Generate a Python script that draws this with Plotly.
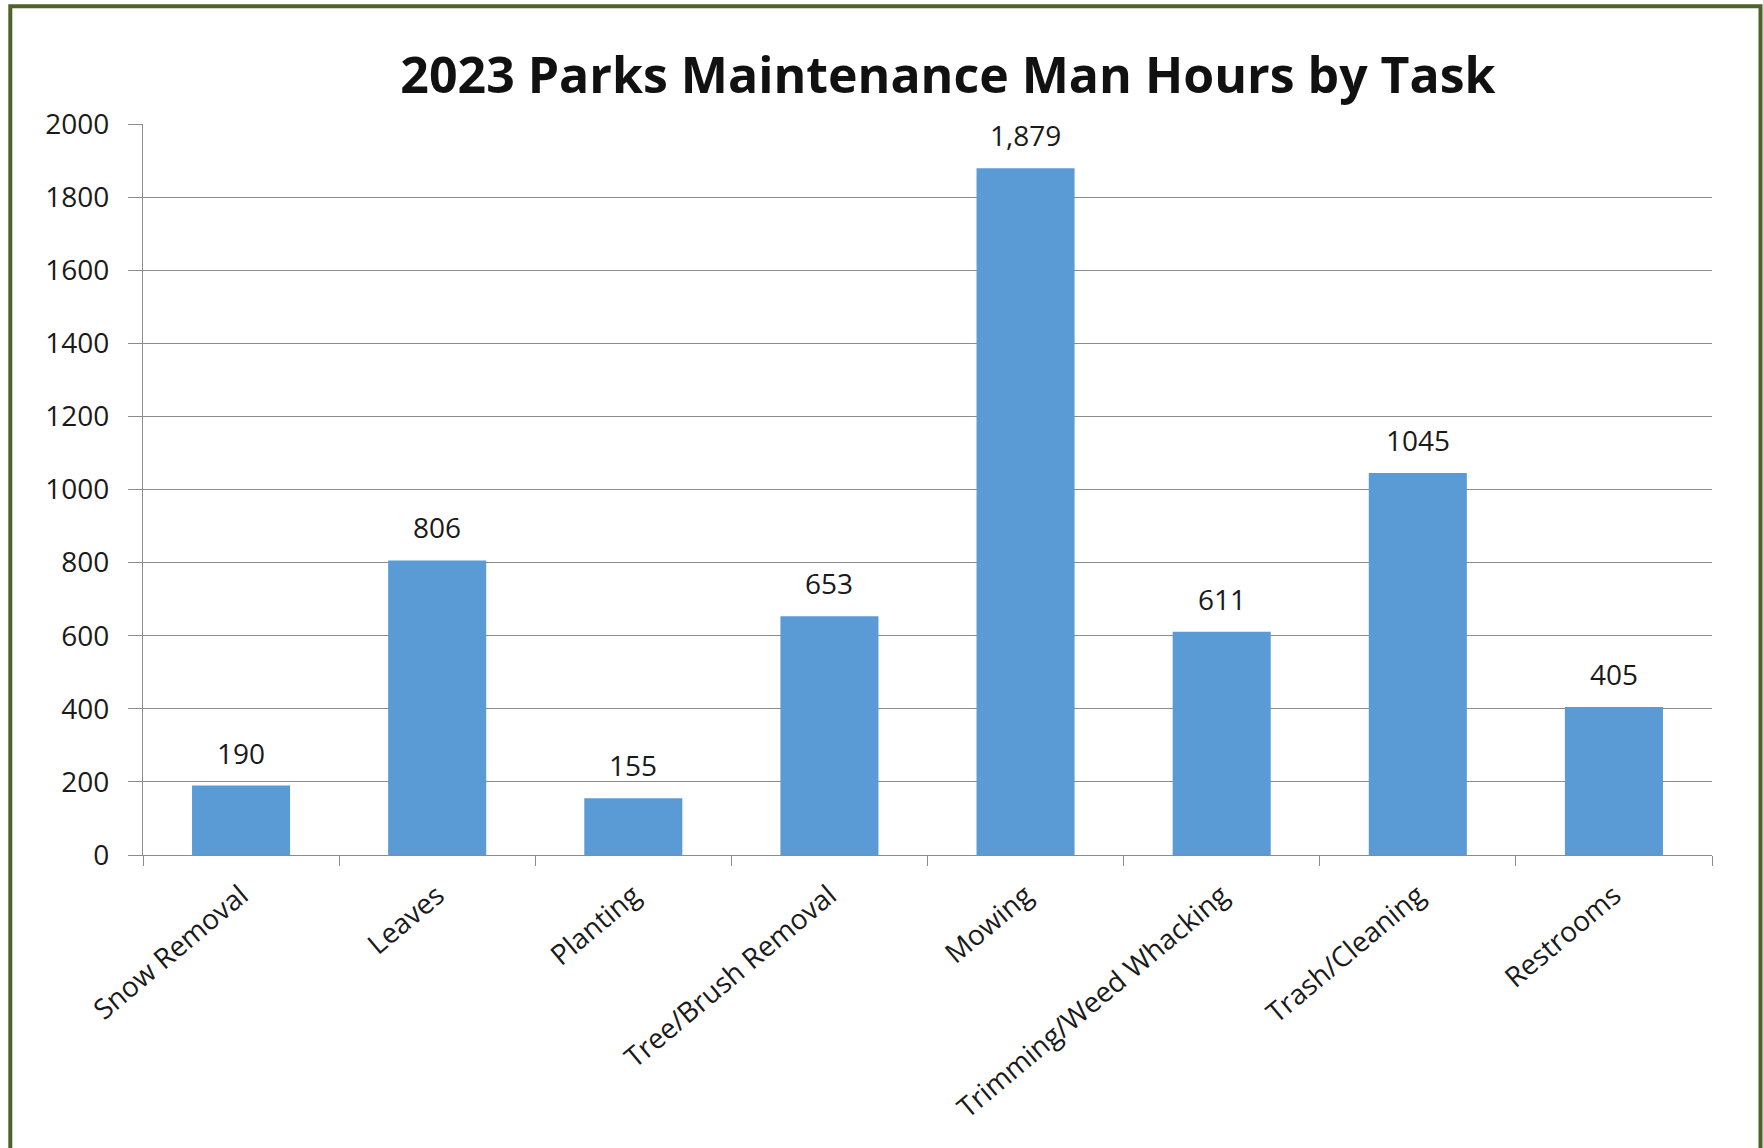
import plotly.graph_objects as go

categories = ["Snow Removal", "Leaves", "Planting", "Tree/Brush Removal", "Mowing",
              "Trimming/Weed Whacking", "Trash/Cleaning", "Restrooms"]
hours = [190, 806, 155, 653, 1879, 611, 1045, 405]
value_labels = ["190", "806", "155", "653", "1,879", "611", "1045", "405"]
y_ticks = [0, 200, 400, 600, 800, 1000, 1200, 1400, 1600, 1800, 2000]

W, H = 1763, 1148
# plot area in window pixels
X0, X1, Y0, Y1 = 143, 1712, 124, 855
L, R, T, B = X0, W - X1, Y0, H - Y1
pw, ph = W - L - R, H - T - B

def px(x):
    return (x - L) / pw

def py(y):
    return (H - B - y) / ph

FONT = "Open Sans"
GRID = "#8c8c8c"
TXT = "#1a1a1a"
FS = 28

fig = go.Figure()
fig.add_trace(go.Bar(x=categories, y=hours, marker=dict(color="#5B9BD5", line=dict(width=0)),
                     showlegend=False))

for c, v, t in zip(categories, hours, value_labels):
    fig.add_annotation(x=c, y=v, text=t, showarrow=False, yanchor="bottom", yshift=12,
                       font=dict(family=FONT, size=FS, color=TXT))

fig.update_layout(
    width=W, height=H,
    margin=dict(l=L, r=R, t=T, b=B, autoexpand=False),
    paper_bgcolor="white", plot_bgcolor="white",
    bargap=0.5,
    title=dict(text="<b>2023 Parks Maintenance Man Hours by Task</b>",
               x=948 / W, xanchor="center", xref="container",
               y=1 - 75 / H, yanchor="middle", yref="container",
               font=dict(family=FONT, size=50, color="#111111")),
    font=dict(family=FONT, size=FS, color=TXT),
)

fig.update_yaxes(range=[0, 2000], tickvals=y_ticks, ticktext=[str(v) for v in y_ticks],
                 showgrid=True, gridcolor=GRID, gridwidth=1.3,
                 showline=True, linecolor=GRID, linewidth=1.3,
                 ticks="outside", ticklen=14, tickcolor=GRID, tickwidth=1.3,
                 ticklabelstandoff=13, zeroline=False, automargin=False,
                 tickfont=dict(family=FONT, size=FS, color=TXT))
fig.update_xaxes(showline=True, linecolor=GRID, linewidth=1.3,
                 ticks="outside", ticklen=10, tickcolor=GRID, tickwidth=1.3,
                 tickson="boundaries", tickangle=-40, showgrid=False,
                 ticklabelstandoff=12, automargin=False,
                 tickfont=dict(family=FONT, size=FS, color=TXT))

# outer green frame
fig.add_shape(type="rect", xref="paper", yref="paper",
              x0=px(10.3), x1=px(1760.5), y0=py(1170), y1=py(6.3),
              line=dict(color="#4F6228", width=4), fillcolor="rgba(0,0,0,0)", layer="above")

fig.write_html("out.html", config={"displayModeBar": False},
               post_script="document.body.style.margin='0';document.body.style.overflow='hidden';")
